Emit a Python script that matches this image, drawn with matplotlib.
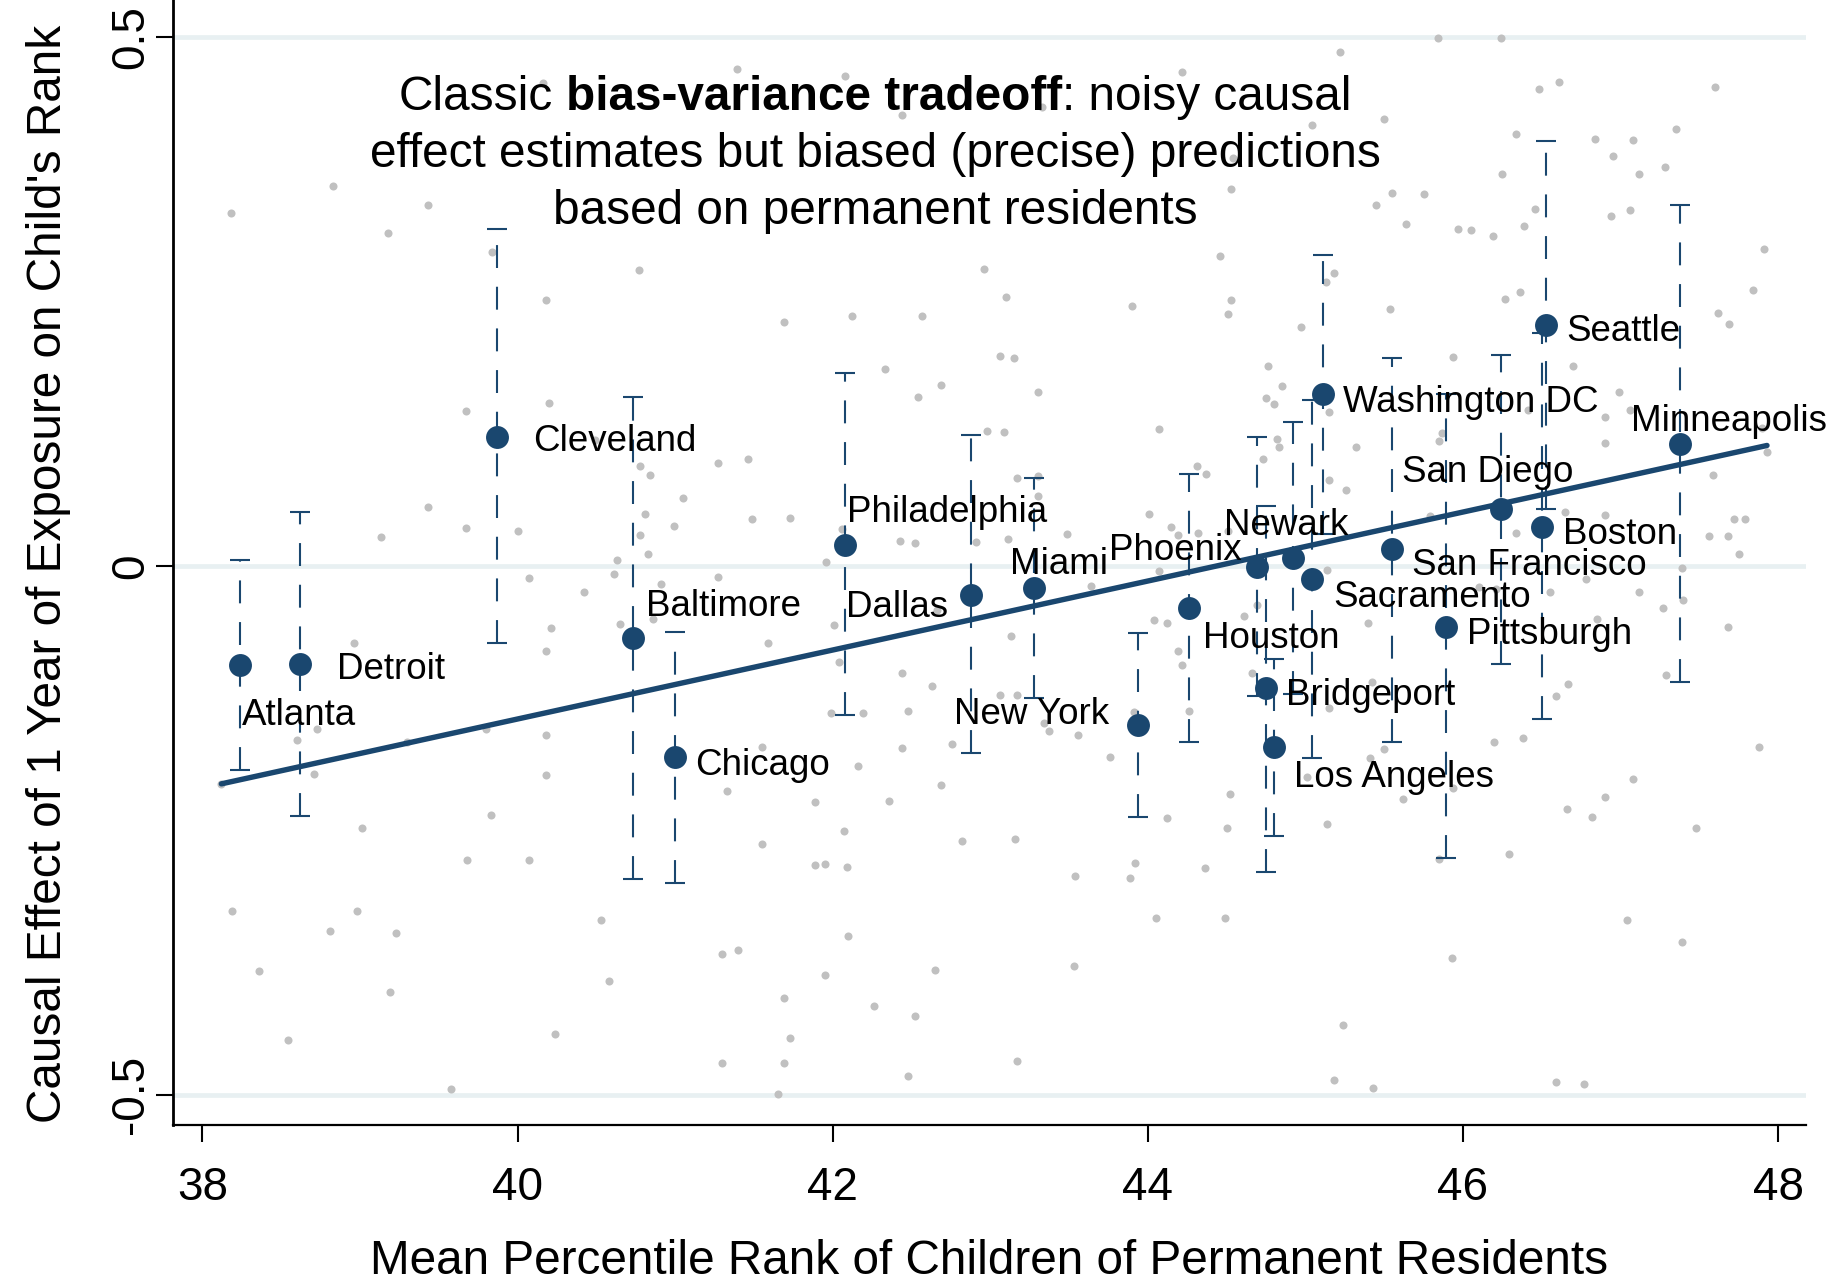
import matplotlib.pyplot as plt

plt.rcParams['font.family'] = ['Liberation Sans', 'DejaVu Sans']

NAVY = '#1a476f'
GREY = '#c0c0c0'

# 20 largest CZs: permanent residents' rank vs. causal exposure effect
cities = ["Atlanta", "Detroit", "Cleveland", "Baltimore", "Chicago", "Philadelphia",
          "Dallas", "Miami", "New York", "Houston", "Phoenix", "Bridgeport",
          "Los Angeles", "Newark", "Sacramento", "Washington DC", "San Francisco",
          "Pittsburgh", "San Diego", "Boston", "Seattle", "Minneapolis"]
perm_rank = [38.24, 38.62, 39.87, 40.73, 41.00, 42.08, 42.88, 43.28, 43.94, 44.26, 44.69,
             44.75, 44.80, 44.92, 45.04, 45.11, 45.55, 45.89, 46.24, 46.50, 46.53, 47.38]
effect = [-0.094, -0.093, 0.122, -0.068, -0.181, 0.020, -0.027, -0.021, -0.150, -0.040, -0.001,
          -0.115, -0.171, 0.008, -0.012, 0.163, 0.016, -0.058, 0.054, 0.037, 0.228, 0.115]
ci_low = [-0.193, -0.236, -0.073, -0.296, -0.300, -0.141, -0.177, -0.125, -0.237, -0.166, -0.123,
          -0.289, -0.255, -0.121, -0.182, 0.030, -0.166, -0.276, -0.093, -0.145, 0.054, -0.110]
ci_high = [0.006, 0.051, 0.319, 0.160, -0.062, 0.183, 0.124, 0.083, -0.063, 0.087, 0.122,
           0.057, -0.088, 0.136, 0.157, 0.294, 0.197, 0.163, 0.200, 0.220, 0.402, 0.341]

# label placement: (alignment, dx, dy) in points
label_pos = {
    "Atlanta": ('left', 1.4, -33.8), "Detroit": ('left', 26.2, -1.8),
    "Cleveland": ('left', 25.7, -1.4), "Baltimore": ('left', 9.4, 24.5),
    "Chicago": ('left', 14.4, -3.4), "Philadelphia": ('left', 1.0, 25.1),
    "Dallas": ('right', -16.8, -7.0), "Miami": ('left', -17.8, 19.3),
    "New York": ('right', -20.7, 9.1), "Houston": ('left', 10.3, -19.7),
    "Phoenix": ('right', -10.8, 14.2), "Bridgeport": ('left', 14.6, -3.6),
    "Los Angeles": ('left', 14.5, -19.8), "Newark": ('center', -4.7, 25.5),
    "Sacramento": ('left', 15.5, -11.7), "Washington DC": ('left', 14.8, -4.3),
    "San Francisco": ('left', 14.4, -9.4), "Pittsburgh": ('left', 15.4, -3.1),
    "San Diego": ('center', -9.2, 28.5), "Boston": ('left', 15.3, -3.1),
    "Seattle": ('left', 14.4, -2.5), "Minneapolis": ('center', 34.9, 18.6),
}

# all other CZs (grey background)
cz_rank = [40.16, 38.83, 38.18, 39.43, 39.18, 39.84, 40.18, 39.67, 40.20, 39.43, 39.67, 39.13, 40.00,
           41.39, 42.08, 42.44, 40.77, 42.96, 41.69, 42.12, 42.57, 42.33, 42.69, 42.54, 42.98, 40.49,
           40.78, 40.84, 41.27, 41.46, 41.05, 40.81, 40.99, 41.49, 41.73, 40.78, 40.83, 40.63, 42.06,
           42.43, 42.52, 42.91, 41.96,
           45.22, 44.22, 43.33, 45.50, 45.04, 44.54, 44.53, 45.55, 45.45, 44.46, 45.18, 45.13, 43.10,
           43.90, 44.53, 44.51, 44.97, 45.54, 43.06, 43.15, 44.76, 43.30, 44.85, 44.75, 44.80, 45.15,
           44.07, 43.09, 44.82, 44.83, 44.73, 45.32, 44.31, 44.37, 43.17, 43.30, 43.30, 45.15, 45.26,
           44.01, 44.15, 44.19, 44.32, 44.51, 43.11, 43.49,
           45.84, 46.24, 46.61, 46.48, 47.60, 46.34, 46.84, 47.08, 47.35, 46.95, 46.25, 47.12, 47.28,
           45.75, 46.46, 47.06, 46.94, 45.64, 45.97, 46.05, 46.19, 46.39, 47.91, 46.27, 46.36, 47.84,
           47.62, 47.69, 45.94, 46.70, 46.99, 47.06, 46.41, 46.90, 45.87, 45.85, 46.90, 47.90, 47.93,
           47.59, 46.65, 46.90, 46.34, 47.72, 47.79, 47.56, 47.68, 47.75, 45.79,
           40.07, 40.21, 40.18, 38.96, 38.73, 38.60, 39.80, 39.30, 40.18, 38.71, 40.18, 38.12, 39.01,
           39.83, 39.68, 40.07, 38.19, 38.98, 38.81, 39.23, 38.36, 39.19, 38.54, 40.24, 39.58,
           40.42, 40.61, 40.91, 41.27, 40.65, 40.86, 41.59, 42.01, 42.04, 42.66, 42.44, 42.63, 41.99,
           42.19, 42.48, 41.55, 42.44, 42.76, 42.16, 41.33, 41.89, 42.36, 42.69, 42.07, 41.55, 42.82,
           41.89, 41.95, 42.09, 40.53, 42.10, 41.30, 41.40, 40.58, 41.95, 42.65, 41.69, 42.26, 42.52,
           41.73, 41.30, 41.69, 42.48, 41.65,
           44.07, 43.64, 45.14, 43.13, 44.04, 44.12, 44.61, 44.69, 45.40, 44.19, 44.22, 44.66, 45.42,
           43.06, 43.17, 43.34, 43.37, 43.56, 43.91, 44.26, 45.15, 43.76, 45.50, 45.41, 45.01, 44.52,
           44.12, 44.50, 45.14, 43.16, 43.54, 43.92, 43.89, 44.36, 44.05, 44.49, 43.53, 45.24, 43.17,
           45.18, 45.43,
           46.78, 47.39, 46.10, 46.21, 46.55, 47.12, 47.27, 47.40, 46.85, 47.68, 47.29, 46.67, 46.59,
           46.20, 46.38, 47.88, 47.08, 45.94, 45.62, 46.90, 46.66, 46.82, 47.48, 46.29, 45.85, 47.04,
           47.39, 45.93, 46.59, 46.77]
cz_effect = [0.457, 0.359, 0.334, 0.341, 0.315, 0.297, 0.252, 0.147, 0.154, 0.056, 0.036, 0.027, 0.033,
             0.470, 0.463, 0.427, 0.280, 0.281, 0.231, 0.236, 0.236, 0.186, 0.171, 0.160, 0.128, 0.119,
             0.095, 0.086, 0.097, 0.101, 0.064, 0.049, 0.038, 0.044, 0.045, 0.029, 0.011, 0.006, 0.035,
             0.024, 0.022, 0.023, 0.004,
             0.486, 0.467, 0.434, 0.423, 0.417, 0.386, 0.357, 0.353, 0.341, 0.293, 0.277, 0.269, 0.254,
             0.246, 0.252, 0.238, 0.226, 0.243, 0.199, 0.197, 0.189, 0.165, 0.170, 0.159, 0.153, 0.146,
             0.130, 0.127, 0.120, 0.113, 0.101, 0.113, 0.095, 0.087, 0.083, 0.085, 0.066, 0.081, 0.072,
             0.049, 0.037, 0.029, 0.031, 0.033, 0.026, 0.030,
             0.499, 0.499, 0.458, 0.451, 0.453, 0.409, 0.404, 0.403, 0.413, 0.388, 0.371, 0.371, 0.377,
             0.352, 0.338, 0.337, 0.331, 0.323, 0.319, 0.318, 0.312, 0.322, 0.300, 0.253, 0.259, 0.261,
             0.239, 0.229, 0.198, 0.189, 0.165, 0.148, 0.148, 0.141, 0.126, 0.118, 0.116, 0.131, 0.108,
             0.086, 0.051, 0.048, 0.031, 0.044, 0.044, 0.028, 0.028, 0.011, 0.047,
             -0.011, -0.059, -0.080, -0.073, -0.154, -0.165, -0.154, -0.166, -0.160, -0.197, -0.198,
             -0.206, -0.248, -0.235, -0.278, -0.278, -0.326, -0.326, -0.345, -0.347, -0.383, -0.403,
             -0.448, -0.443, -0.495,
             -0.025, -0.008, -0.017, -0.010, -0.055, -0.050, -0.073, -0.056, -0.091, -0.042, -0.101,
             -0.113, -0.139, -0.139, -0.137, -0.171, -0.172, -0.168, -0.189, -0.213, -0.223, -0.222,
             -0.207, -0.251, -0.263, -0.260, -0.283, -0.282, -0.285, -0.335, -0.350, -0.367, -0.363,
             -0.392, -0.387, -0.382, -0.409, -0.416, -0.426, -0.446, -0.470, -0.470, -0.482, -0.499,
             -0.005, -0.019, -0.004, -0.066, -0.051, -0.054, -0.047, -0.037, -0.054, -0.080, -0.094,
             -0.101, -0.110, -0.122, -0.122, -0.148, -0.156, -0.160, -0.138, -0.137, -0.134, -0.181,
             -0.173, -0.182, -0.200, -0.216, -0.238, -0.248, -0.244, -0.258, -0.293, -0.281, -0.295,
             -0.286, -0.333, -0.333, -0.378, -0.434, -0.468, -0.486, -0.494,
             -0.012, -0.002, -0.020, -0.022, -0.025, -0.025, -0.040, -0.032, -0.050, -0.058, -0.103,
             -0.112, -0.123, -0.166, -0.163, -0.171, -0.201, -0.210, -0.220, -0.218, -0.230, -0.237,
             -0.248, -0.272, -0.277, -0.335, -0.356, -0.371, -0.488, -0.490]

# fitted line (predictions based on permanent residents)
fit_x = [38.12, 47.93]
fit_y = [-0.206, 0.114]

fig = plt.figure(figsize=(18.45, 12.83), dpi=100)
ax = fig.add_axes([0.0936, 0.1231, 0.8853, 0.8769])

ax.scatter(cz_rank, cz_effect, s=5.8 ** 2, color=GREY, linewidths=0, zorder=1)

yerr = [[e - lo for e, lo in zip(effect, ci_low)], [hi - e for e, hi in zip(effect, ci_high)]]
eb = ax.errorbar(perm_rank, effect, yerr=yerr, fmt='none', ecolor=NAVY, elinewidth=1.5,
                 capsize=7.2, capthick=1.5, zorder=2)
eb.lines[2][0].set_linestyle((0, (11, 9)))

ax.plot(fit_x, fit_y, color=NAVY, lw=3.9, solid_capstyle='round', zorder=3)
ax.scatter(perm_rank, effect, s=16.5 ** 2, color=NAVY, linewidths=0, zorder=4)

for name, x, y in zip(cities, perm_rank, effect):
    ha, dx, dy = label_pos[name]
    ax.annotate(name, (x, y), xytext=(dx, dy - 2.1), textcoords='offset points',
                ha=ha, va='center', fontsize=26.5, color='black', zorder=5)

ax.set_xlim(37.811, 48.178)
ax.set_ylim(-0.5287, 0.5353)
ax.set_xticks([38, 40, 42, 44, 46, 48])
ax.set_yticks([-0.5, 0, 0.5])
ax.set_yticklabels(["-0.5", "0", "0.5"], rotation=90, va='center')
ax.yaxis.grid(True, color='#e8f0f2', lw=3.4, zorder=0)
ax.set_axisbelow(True)

for side in ['top', 'right']:
    ax.spines[side].set_visible(False)
ax.spines['left'].set_linewidth(2)
ax.spines['bottom'].set_linewidth(1.6)
ax.tick_params(length=12, width=1.5, labelsize=33, colors='black')
ax.tick_params(axis='x', pad=17.4)
ax.tick_params(axis='y', pad=2)

ax.set_xlabel("Mean Percentile Rank of Children of Permanent Residents", fontsize=34.4)
ax.set_ylabel("Causal Effect of 1 Year of Exposure on Child's Rank", fontsize=34.4)
ax.xaxis.set_label_coords(0.5, -0.121)
ax.xaxis.label.set_va('center')
ax.yaxis.set_label_coords(-0.0763, 0.49)
ax.yaxis.label.set_va('center')

# annotation with bold phrase in the first line
fig.canvas.draw()
renderer = fig.canvas.get_renderer()


def text_width(s, weight):
    t = ax.text(0, 0, s, fontsize=34.4, fontweight=weight)
    w = t.get_window_extent(renderer).width
    t.remove()
    return w


space = text_width("a a", 'normal') - text_width("aa", 'normal')
pieces = [("Classic", 'normal'), ("bias-variance tradeoff", 'bold'), (": noisy causal", 'normal')]
widths = [text_width(s, w) for s, w in pieces]
total = sum(widths) + space
note_x = 42.27
start = -total / 2
offsets = [start, start + widths[0] + space, start + widths[0] + space + widths[1]]
for (s, w), off in zip(pieces, offsets):
    ax.annotate(s, (note_x, 0.443), xytext=(off * 0.72, 0), textcoords='offset points',
                ha='left', va='center', fontsize=34.4, fontweight=w)
ax.text(note_x, 0.389, "effect estimates but biased (precise) predictions",
        ha='center', va='center', fontsize=34.4)
ax.text(note_x, 0.335, "based on permanent residents", ha='center', va='center', fontsize=34.4)

fig.savefig("out.png", dpi=100)
